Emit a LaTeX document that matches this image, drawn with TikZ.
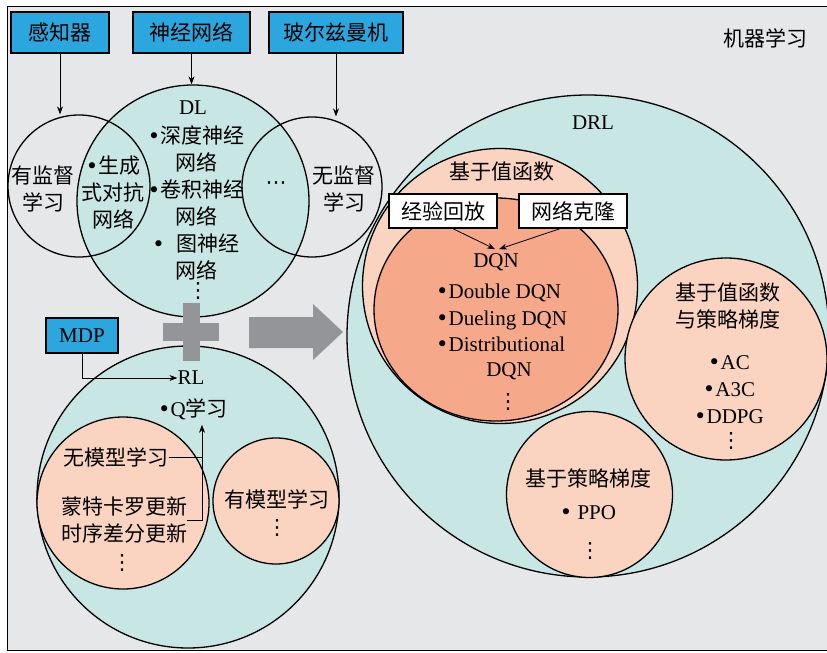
\documentclass[tikz,border=0pt]{standalone}
\usepackage{fontspec}
\setmainfont{Liberation Serif}
\newfontfamily\cjk{Noto Sans CJK SC}
\newfontfamily\symf{DejaVu Sans}
\newcommand{\zh}[1]{{\cjk #1}}
\newcommand{\bul}{{\symf •}}
\newcommand{\vdts}{{\symf ⋮}}
\newcommand{\hdts}{{\symf ⋯}}
\usetikzlibrary{arrows.meta,positioning,shapes.geometric}
\definecolor{bggray}{HTML}{E6E7E9}
\definecolor{tealfill}{HTML}{C8E6E4}
\definecolor{pinkfill}{HTML}{FBD3C1}
\definecolor{salmonfill}{HTML}{F6A88B}
\definecolor{boxblue}{HTML}{2BA6DE}
\definecolor{plusgray}{HTML}{939598}

\begin{document}
\begin{tikzpicture}[
  x=1pt, y=-1pt,
  txt/.style={align=center,inner sep=0pt,font=\fontsize{21}{27}\selectfont},
  zhtxt/.style={align=center,inner sep=0pt,font=\fontsize{21}{27}\selectfont\cjk},
  bluebox/.style={draw,line width=1.4pt,fill=boxblue,minimum height=41pt,inner sep=0pt,font=\fontsize{21}{27}\selectfont\cjk},
  whitebox/.style={draw,line width=1.4pt,fill=white,minimum height=34pt,minimum width=108pt,inner sep=0pt,font=\fontsize{21}{27}\selectfont\cjk},
  ring/.style={circle,draw,line width=1.3pt,inner sep=0pt},
  arr/.style={-{Stealth[length=8pt,width=6pt]},line width=0.8pt}
]
\useasboundingbox (0,0) rectangle (827,653);
% frame
\draw[line width=1pt,fill=bggray] (7,6) rectangle (850,650);
\node[zhtxt] (ml) at (765,38) {机器学习};

% top row
\node[bluebox,minimum width=98pt] (perc) at (60,32.5) {感知器};
\node[bluebox,minimum width=117pt] (nn) at (191.5,32.5) {神经网络};
\node[bluebox,minimum width=134pt] (boltz) at (336,32.5) {玻尔兹曼机};

% DL venn
\node[ring,fill=tealfill,minimum size=232pt] (dl) at (193,201) {};
\node[ring,minimum size=142pt] (sup) at (79,186) {};
\node[ring,minimum size=140pt] (unsup) at (312,187) {};

\node[txt] (dlname) at (193,108) {DL};
\node[txt] (dllist) at (196,202.5) {\bul\zh{深度神经}\\\zh{网络}\\\bul\zh{卷积神经}\\\zh{网络}\\\bul\hspace{12pt}\zh{图神经}\\\zh{网络}};
\node[txt] (dldots) at (198,291) {\vdts};
\node[zhtxt] (suptxt) at (43,188.5) {有监督\\学习};
\node[txt] (gan) at (113,192) {\bul\zh{生成}\\\zh{式对抗}\\\zh{网络}};
\node[txt] (hdots) at (276,186) {\hdts};
\node[zhtxt] (unsuptxt) at (344,188.5) {无监督\\学习};

\draw[arr] (perc.south) -- (perc.south |- sup.north);
\draw[arr] (nn.south) -- (nn.south |- dl.north);
\draw[arr] (boltz.south) -- (boltz.south |- unsup.north);

% RL
\node[ring,fill=tealfill,minimum size=302pt] (rl) at (188,497) {};
\node[ring,fill=pinkfill,minimum size=172pt] (mfree) at (123,503) {};
\node[ring,fill=pinkfill,minimum size=126pt] (mbased) at (276,501) {};

\node[bluebox,font=\fontsize{21}{27}\selectfont,minimum width=72pt,minimum height=35pt] (mdp) at (82,335.5) {MDP};
\node[txt] (rlname) at (191,378) {RL};
\node[txt] (qlearn) at (193,409) {\bul Q\zh{学习}};
\node[zhtxt] (nomodel) at (116,457) {无模型学习};
\node[zhtxt] (mc) at (124,520) {蒙特卡罗更新\\时序差分更新};
\node[txt] (mfdots) at (122,563) {\vdts};
\node[zhtxt] (model) at (277,499) {有模型学习};
\node[txt] (mbdots) at (277,528) {\vdts};

\coordinate (bk) at (202,520);
\draw[arr] (mdp.south) |- (rlname.west);
\draw[line width=0.8pt] (nomodel.east) -- (nomodel.east -| bk);
\draw[arr] (mc.east) -- (bk) -- ([yshift=-5pt]bk |- qlearn.south);

% plus and big arrow
\fill[plusgray] (183,303) rectangle (200,361);
\fill[plusgray] (163,323) rectangle (219,341);
\fill[plusgray] (249,317) -- (313,317) -- (313,304) -- (343,332) -- (313,360) -- (313,348) -- (249,348) -- cycle;

% DRL
\node[ring,fill=tealfill,minimum size=482pt] (drl) at (588,336) {};
\node[ring,fill=pinkfill,minimum size=275pt] (vb) at (500,286) {};
\node[ellipse,draw,line width=1.3pt,inner sep=0pt,fill=salmonfill,minimum width=244pt,minimum height=223pt] (dqn) at (496,309.5) {};
\node[ring,fill=pinkfill,minimum size=202pt] (ac) at (726,359) {};
\node[ring,fill=pinkfill,minimum size=166pt] (pg) at (589.5,494.5) {};

\node[txt] (drlname) at (593,123) {DRL};
\node[zhtxt] (vbtxt) at (502,172) {基于值函数};
\node[whitebox] (replay) at (443,211) {经验回放};
\node[whitebox] (clone) at (573,211) {网络克隆};
\node[txt] (dqnname) at (496,262) {DQN};
\node[txt,align=left,anchor=west,font=\fontsize{21}{26.5}\selectfont] (dqnlist) at (436,318) {\bul Double DQN\\\bul Dueling DQN\\\bul Distributional};
\node[txt] (dqnend) at (509,371) {DQN};
\node[txt] (dqndots) at (508,402) {\vdts};
\draw[arr] ([xshift=10pt]replay.south) -- ([xshift=-1pt,yshift=4pt]dqnname.north);
\draw[arr] ([xshift=-13pt]clone.south) -- ([xshift=3pt,yshift=4pt]dqnname.north);

\node[zhtxt] (actxt) at (728,306.5) {基于值函数\\与策略梯度};
\node[txt] (aclist) at (729,390) {\bul AC\\\bul A3C\\\bul DDPG};
\node[txt] (acdots) at (731,441) {\vdts};

\node[zhtxt] (pgtxt) at (588,478) {基于策略梯度};
\node[txt] (ppo) at (588,513) {\bul\ PPO};
\node[txt] (pgdots) at (590,551) {\vdts};
\end{tikzpicture}
\end{document}
